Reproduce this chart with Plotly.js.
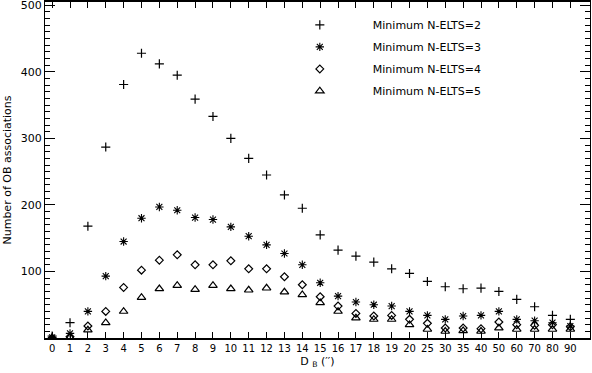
<!DOCTYPE html>
<html>
<head>
<meta charset="utf-8">
<script src="https://cdn.plot.ly/plotly-3.0.1.min.js"></script>
<style>
  body { margin: 0; padding: 0; background: #fff; }
  #chart { width: 592px; height: 373px; }
</style>
</head>
<body>
<div id="chart"></div>
<script>
// D_B bins (categories, shown as tick labels)
var binLabels = ['0','1','2','3','4','5','6','7','8','9','10','11','12','13','14','15',
                 '16','17','18','19','20','25','30','35','40','50','60','70','80','90'];

// number of OB associations per minimum N-ELTS
var minElts2 = [3, 23, 168, 287, 381, 428, 412, 395, 359, 333, 300, 270, 245, 215, 195, 155,
                132, 123, 114, 104, 97, 85, 77, 74, 75, 70, 58, 47, 34, 28];
var minElts3 = [1, 7, 40, 93, 145, 180, 197, 192, 181, 178, 167, 153, 140, 127, 110, 83,
                63, 54, 50, 48, 40, 34, 28, 33, 34, 40, 28, 26, 23, 18];
var minElts4 = [0, 2, 18, 40, 76, 102, 117, 125, 110, 110, 116, 104, 104, 92, 80, 62,
                48, 37, 33, 34, 28, 22, 15, 15, 14, 24, 20, 19, 20, 17];
var minElts5 = [0, 1, 12, 23, 40, 61, 74, 79, 73, 79, 74, 72, 75, 69, 65, 53,
                40, 30, 28, 28, 20, 13, 10, 11, 10, 15, 13, 13, 13, 13];

var xs = binLabels.map((l, i) => i);

function series(y, name, symbol, size, lw, group) {
  return {
    x: xs,
    y: y,
    name: name,
    legendgroup: group,
    mode: 'markers',
    type: 'scatter',
    cliponaxis: true,
    marker: {
      symbol: symbol,
      size: size,
      color: 'black',
      line: { color: 'black', width: lw }
    }
  };
}

var plotData = [
  series(minElts2, 'Minimum N-ELTS=2', 'cross-thin-open', 6.5, 1.2, 'a'),
  series(minElts3, 'Minimum N-ELTS=3', 'asterisk-open', 7, 1.1, 'b'),
  series(minElts4, 'Minimum N-ELTS=4', 'diamond-open', 6, 1.2, 'c'),
  series(minElts5, 'Minimum N-ELTS=5', 'triangle-up-open', 7.5, 1.2, 'd')
];

var font = { family: 'DejaVu Sans, sans-serif', color: 'black' };

var layout = {
  width: 592,
  height: 373,
  margin: { l: 45, r: 2, t: 2, b: 35 },
  paper_bgcolor: 'white',
  plot_bgcolor: 'white',
  font: { family: font.family, size: 11, color: 'black' },
  showlegend: true,
  legend: {
    x: 0.407, y: 0.975, xanchor: 'left', yanchor: 'top',
    bgcolor: 'rgba(0,0,0,0)',
    font: { family: font.family, size: 11, color: 'black' },
    itemwidth: 96,
    traceorder: 'grouped',
    tracegroupgap: 3
  },
  xaxis: {
    range: [-0.4, 30.1],
    tickmode: 'array',
    tickvals: xs,
    ticktext: binLabels,
    ticks: 'inside',
    ticklen: 6,
    tickwidth: 1,
    tickcolor: 'black',
    showline: true,
    linecolor: 'black',
    linewidth: 2,
    mirror: 'ticks',
    showgrid: false,
    zeroline: false,
    tickfont: { family: font.family, size: 10, color: 'black' },
    title: { text: 'D <sub>B</sub> (′′)', font: { family: font.family, size: 11, color: 'black' }, standoff: 4 }
  },
  yaxis: {
    range: [0, 505],
    tickmode: 'array',
    tickvals: [100, 200, 300, 400, 500],
    ticks: 'inside',
    ticklen: 10,
    tickwidth: 1,
    tickcolor: 'black',
    ticklabeloverflow: 'allow',
    minor: { dtick: 10, ticks: 'inside', ticklen: 5, tickcolor: 'black', showgrid: false },
    showline: true,
    linecolor: 'black',
    linewidth: 1,
    mirror: 'ticks',
    showgrid: false,
    zeroline: false,
    tickfont: { family: font.family, size: 11, color: 'black' },
    title: { text: 'Number of OB associations', font: { family: font.family, size: 11, color: 'black' }, standoff: 6 }
  }
};

Plotly.newPlot('chart', plotData, layout, { displayModeBar: false, staticPlot: true });
</script>
</body>
</html>
